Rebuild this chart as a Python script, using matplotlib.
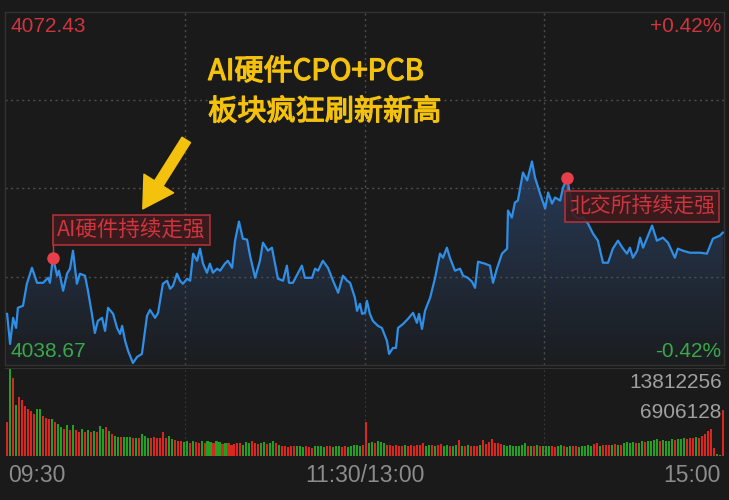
import numpy as np
import matplotlib
matplotlib.use("Agg")
import matplotlib.pyplot as plt
import matplotlib.patheffects as pe
from matplotlib.patches import PathPatch

# price line vertices: minute since 09:30 (lunch break removed) and index level
minutes = [0.7, 1.7, 2.7, 3.7, 4.3, 6.0, 7.3, 9.0, 10.7, 12.7,
           14.4, 15.0, 16.0, 17.4, 18.0, 19.4, 20.7, 21.7, 22.7, 24.0,
           25.0, 26.7, 27.7, 29.0, 30.0, 31.0, 32.4, 33.4, 34.4, 36.1,
           37.4, 38.4, 39.1, 40.1, 41.1, 42.7, 44.1, 45.7, 47.4, 48.4,
           50.1, 51.1, 52.7, 54.1, 55.1, 56.1, 57.4, 58.4, 59.4, 60.8,
           61.8, 62.8, 64.1, 65.1, 66.1, 67.4, 68.4, 69.4, 70.8, 71.8,
           73.4, 74.4, 75.8, 76.8, 78.1, 79.4, 80.8, 81.8, 83.5, 85.1,
           86.1, 87.8, 89.1, 91.1, 92.8, 94.1, 94.8, 96.1, 99.1, 100.1,
           102.5, 103.5, 104.5, 106.1, 107.8, 109.5, 111.2, 112.8, 114.2, 115.2,
           116.8, 117.5, 118.5, 119.2, 120.2, 120.8, 121.8, 122.8, 124.5, 125.8,
           127.5, 128.2, 129.5, 130.5, 131.2, 132.9, 134.5, 136.2, 137.5, 138.2,
           139.2, 140.2, 141.9, 143.5, 145.2, 146.2, 147.5, 148.5, 150.2, 151.9,
           152.9, 154.5, 155.9, 156.9, 157.9, 160.2, 161.9, 162.9, 164.2, 165.9,
           167.6, 167.9, 169.2, 170.2, 171.2, 172.9, 174.3, 175.9, 176.9, 178.6,
           180.3, 181.3, 182.6, 183.6, 185.3, 186.3, 187.6, 188.6, 189.6, 191.3,
           192.9, 194.6, 196.3, 197.9, 199.6, 201.3, 202.9, 204.6, 206.3, 207.6,
           208.6, 209.6, 211.0, 212.0, 213.0, 216.0, 217.6, 219.6, 221.3, 223.6,
           224.6, 226.3, 228.6, 232.0, 234.3, 236.3, 238.6, 239.6]
prices = [4043.56, 4040.68, 4043.18, 4042.22, 4044.14, 4044.33, 4046.44, 4047.97, 4046.53, 4046.53,
          4047.01, 4046.53, 4048.93, 4047.21, 4047.69, 4045.77, 4047.40, 4047.88, 4049.60, 4046.44,
          4047.40, 4047.21, 4045.77, 4043.56, 4041.74, 4042.89, 4043.18, 4041.93, 4044.14, 4043.56,
          4042.22, 4041.64, 4042.41, 4040.97, 4040.01, 4038.86, 4039.44, 4039.73, 4043.37, 4043.94,
          4043.18, 4043.66, 4046.44, 4046.73, 4045.96, 4046.25, 4047.40, 4046.73, 4046.44, 4046.92,
          4046.73, 4049.32, 4048.64, 4049.80, 4048.36, 4047.49, 4048.36, 4047.49, 4047.88, 4047.69,
          4048.36, 4048.64, 4047.97, 4050.56, 4052.39, 4050.75, 4050.66, 4049.12, 4047.01, 4048.64,
          4050.37, 4049.60, 4049.89, 4046.92, 4046.73, 4048.17, 4046.53, 4046.53, 4048.17, 4047.01,
          4047.01, 4047.88, 4047.69, 4048.64, 4047.97, 4046.73, 4045.58, 4047.21, 4046.73, 4046.53,
          4045.10, 4043.85, 4044.52, 4043.56, 4043.66, 4044.81, 4043.56, 4042.89, 4042.41, 4042.22,
          4040.97, 4039.73, 4040.30, 4040.30, 4042.22, 4042.60, 4043.08, 4043.66, 4042.70, 4043.56,
          4042.12, 4043.85, 4045.10, 4046.92, 4049.32, 4048.93, 4049.89, 4048.93, 4047.69, 4047.88,
          4047.21, 4047.01, 4046.63, 4046.05, 4048.55, 4048.36, 4048.17, 4046.53, 4047.88, 4049.32,
          4049.80, 4053.44, 4052.77, 4054.21, 4054.40, 4057.08, 4056.32, 4058.14, 4056.61, 4055.07,
          4053.63, 4055.17, 4054.11, 4054.69, 4054.40, 4055.65, 4056.51, 4055.07, 4053.15, 4052.67,
          4052.77, 4052.19, 4051.23, 4050.56, 4048.45, 4048.45, 4049.80, 4050.56, 4049.80, 4049.32,
          4049.89, 4048.93, 4049.60, 4050.85, 4049.89, 4052.00, 4050.56, 4050.85, 4050.37, 4048.93,
          4049.80, 4049.60, 4049.41, 4049.41, 4049.32, 4050.75, 4051.04, 4051.33]

price_low = 4038.67
price_high = 4072.43
pct_label = "0.42%"

# per-minute volume (millions) and up/down colour code
volumes = [5.4, 13.81, 12.2, 8.0, 9.2, 8.8, 7.9, 7.3, 7.0, 6.6,
           7.3, 7.3, 6.2, 5.9, 5.8, 5.8, 5.4, 5.1, 4.6, 4.3,
           4.9, 4.1, 4.9, 4.1, 3.8, 4.3, 3.7, 4.1, 3.8, 4.0,
           3.7, 4.7, 4.3, 4.5, 4.0, 3.4, 3.1, 3.0, 3.0, 3.0,
           3.0, 3.0, 2.9, 2.8, 2.9, 3.4, 3.2, 2.9, 2.9, 3.0,
           2.8, 2.9, 3.7, 2.9, 3.1, 2.6, 2.5, 2.4, 2.3, 2.2,
           2.3, 2.1, 2.4, 2.2, 2.0, 2.3, 2.1, 2.4, 2.2, 2.0,
           2.3, 2.2, 1.9, 2.1, 2.0, 1.8, 1.9, 2.1, 2.0, 1.8,
           2.2, 2.0, 2.3, 2.1, 1.9, 2.0, 2.2, 1.9, 2.1, 2.4,
           2.0, 1.8, 1.5, 1.5, 1.4, 1.5, 1.6, 1.5, 1.6, 1.4,
           1.5, 1.4, 1.3, 1.5, 1.6, 1.5, 1.4, 1.6, 1.5, 1.4,
           1.6, 1.5, 1.4, 1.5, 1.4, 1.5, 1.7, 1.8, 1.6, 1.7,
           5.3, 2.1, 2.2, 2.0, 2.3, 2.2, 2.0, 1.8, 1.7, 1.6,
           1.7, 1.6, 1.5, 1.7, 1.6, 1.7, 1.6, 1.8, 1.7, 2.0,
           1.6, 1.7, 1.8, 1.6, 1.8, 1.9, 1.5, 1.7, 1.6, 1.5,
           1.8, 2.5, 1.6, 1.5, 1.7, 1.6, 1.5, 1.6, 1.7, 2.5,
           1.9, 2.2, 2.6, 2.0, 2.1, 1.9, 1.8, 1.6, 1.7, 1.6,
           1.5, 1.6, 1.7, 2.0, 1.6, 1.5, 1.6, 1.7, 1.5, 1.6,
           1.5, 1.6, 1.5, 1.4, 1.6, 1.7, 1.5, 1.4, 1.5, 1.6,
           1.5, 1.4, 1.5, 1.6, 1.7, 1.5, 1.9, 2.0, 1.6, 1.8,
           1.7, 1.8, 1.7, 1.9, 1.8, 1.7, 2.0, 2.2, 2.1, 2.2,
           2.0, 2.1, 2.3, 2.2, 2.3, 2.4, 2.5, 2.6, 2.3, 2.5,
           2.3, 2.4, 2.6, 2.5, 2.6, 2.7, 2.8, 2.6, 2.9, 2.9,
           3.0, 2.9, 3.2, 3.5, 3.9, 4.3, 1.2, 0.3, 0.2, 7.2]
vol_colors = ("rgrgrrrrrr" "ggrrrgrggr" "grgrrgrgrg" "rggrgrggrg"
              "ggrgrgggrr" "rrrrggrrrg" "grgrrgrggr" "ggrgrrrrrg"
              "ggrrrggrgg" "rgrrrrrggg" "rrrggggrrg" "ggrrgggggr"
              "rggrgggrrr" "rrrgrrrrrr" "ggrgrrggrg" "grgrgrrrgr"
              "rrrrrrgggg" "ggggrgrgrg" "ggrrggrggr" "rgggggrrgr"
              "rrgrgrgggg" "rggrggggrg" "gggrgggrrr" "grrrrrrggr")
vol_max = 13812256

time_labels = ["09:30", "11:30/13:00", "15:00"]

BG = "#1a1a1a"
RED = "#d0343c"
GREEN = "#3aa84a"
BAR_RED = "#d9261f"
BAR_GREEN = "#22a022"
LINE = "#2f8fe6"
YELLOW = "#f4c20d"
GRID = "#4e4e4e"
CJK = ["Noto Sans CJK SC", "DejaVu Sans"]

fig = plt.figure(figsize=(7.29, 5.0), dpi=100, facecolor=BG)
ax = fig.add_axes([5 / 729, 135 / 500, 719 / 729, 353 / 500], facecolor=BG)
axv = fig.add_axes([5 / 729, 44 / 500, 719 / 729, 88 / 500], facecolor=BG)

# ---- price panel
ax.set_xlim(0, 240)
ax.set_ylim(price_low, price_high)
ax.set_yticks(np.linspace(price_low, price_high, 5)[1:-1])
ax.set_xticks([60, 120, 180])
ax.grid(True, color=GRID, linestyle=(0, (1.5, 2.5)), linewidth=1.0)
ax.tick_params(length=0, labelleft=False, labelbottom=False)
for s in ax.spines.values():
    s.set_color("#333333")
    s.set_linewidth(1.0)

# gradient fill under the line
poly = ax.fill_between(minutes, prices, price_low, color="none")
clip = PathPatch(poly.get_paths()[0], transform=ax.transData, facecolor="none", edgecolor="none")
ax.add_patch(clip)
grad = np.zeros((256, 1, 4))
grad[:, 0, 0] = 0.20
grad[:, 0, 1] = 0.34
grad[:, 0, 2] = 0.55
grad[:, 0, 3] = np.linspace(0.05, 0.55, 256)
img = ax.imshow(grad, extent=[0, 240, price_low, max(prices)], aspect="auto",
                origin="lower", zorder=1)
img.set_clip_path(clip)

ax.plot(minutes, prices, color=LINE, linewidth=1.6, zorder=3)

# price labels
ax.text(0.008, 0.958, f"{price_high:.2f}", transform=ax.transAxes, color=RED,
        fontsize=15, family="Liberation Sans", va="center", ha="left")
ax.text(0.996, 0.958, "+" + pct_label, transform=ax.transAxes, color=RED,
        fontsize=15, family="Liberation Sans", va="center", ha="right")
ax.text(0.008, 0.037, f"{price_low:.2f}", transform=ax.transAxes, color=GREEN,
        fontsize=15, family="Liberation Sans", va="center", ha="left")
ax.text(0.996, 0.037, "-" + pct_label, transform=ax.transAxes, color=GREEN,
        fontsize=15, family="Liberation Sans", va="center", ha="right")

# headline and arrow (regular weight thickened a little)
thick = [pe.withStroke(linewidth=0.9, foreground=YELLOW)]
ax.text(67.8, 4066.7, "AI硬件CPO+PCB", color=YELLOW, fontsize=21, family=CJK,
        va="center", ha="left", zorder=5, path_effects=thick)
ax.text(67.8, 4062.85, "板块疯狂刷新新高", color=YELLOW, fontsize=21, family=CJK,
        va="center", ha="left", zorder=5, path_effects=thick)
ax.annotate("", xy=(46.0, 4053.6), xytext=(60.5, 4060.2),
            arrowprops=dict(arrowstyle="simple,head_length=0.6,head_width=0.7,tail_width=0.2",
                            color=YELLOW, mutation_scale=36, shrinkA=0, shrinkB=0), zorder=5)

# callouts
def callout(i, text, tx, ty, size):
    x, y = minutes[i], prices[i]
    ax.plot([x, x], [y, ty], color=RED, linewidth=1.0, zorder=4)
    ax.plot([x], [y], "o", color="#e8404a", markersize=8, zorder=6)
    ax.text(tx, ty, text, color=RED, fontsize=size, family=CJK, va="center", ha="left",
            zorder=5, bbox=dict(boxstyle="square,pad=0.2", facecolor="#3d1c1f",
                                edgecolor="#b8343b", linewidth=1.2, alpha=0.9))

callout(12, "AI硬件持续走强", 17.3, 4051.57, 15.5)
callout(146, "北交所持续走强", 188.3, 4053.82, 15)

# ---- volume panel
axv.set_xlim(ax.get_xlim())
axv.set_ylim(0, vol_max)
bar_cols = [BAR_RED if c == "r" else BAR_GREEN for c in vol_colors]
axv.bar(np.arange(len(volumes)) + 0.6, np.array(volumes) * 1e6, width=0.68, color=bar_cols,
        linewidth=0, zorder=2)
axv.set_xticks([60, 120, 180])
axv.set_yticks([])
axv.grid(True, axis="x", color="#3a3a3a", linestyle=(0, (1.5, 2.5)), linewidth=0.8)
axv.tick_params(length=0, labelleft=False, labelbottom=False)
for name, s in axv.spines.items():
    s.set_visible(name == "top")
    s.set_color("#333333")

axv.text(0.997, 0.84, str(vol_max), transform=axv.transAxes, color="#a0a0a0",
         fontsize=15, family="Liberation Sans", va="center", ha="right", zorder=5)
axv.text(0.997, 0.5, str(vol_max // 2), transform=axv.transAxes, color="#a0a0a0",
         fontsize=15, family="Liberation Sans", va="center", ha="right", zorder=5)

# time axis labels
fig.text(8 / 729, 25 / 500, time_labels[0], color="#8c8c8c", fontsize=16.5,
         family="Liberation Sans", va="center", ha="left")
fig.text(365 / 729, 25 / 500, time_labels[1], color="#8c8c8c", fontsize=16.5,
         family="Liberation Sans", va="center", ha="center")
fig.text(721 / 729, 25 / 500, time_labels[2], color="#8c8c8c", fontsize=16.5,
         family="Liberation Sans", va="center", ha="right")

fig.savefig("out.png", dpi=100, facecolor=BG)
